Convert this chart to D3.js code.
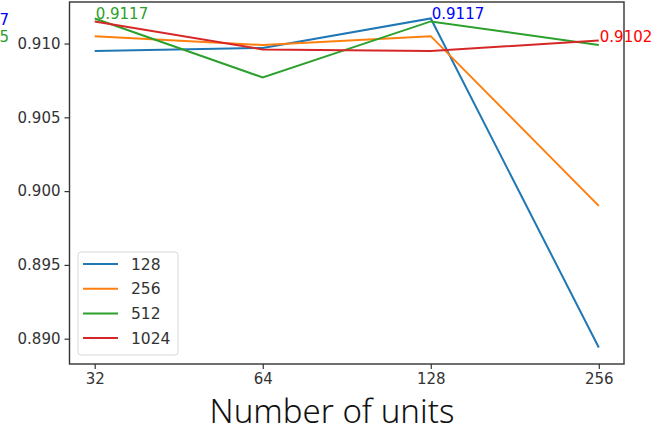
<!DOCTYPE html>
<html>
<head>
<meta charset="utf-8">
<script src="https://cdn.jsdelivr.net/npm/d3@7"></script>
<style>
  html, body { margin: 0; padding: 0; background: #fff; }
  svg { display: block; }
  text { font-family: "DejaVu Sans", sans-serif; }
</style>
</head>
<body>
<svg id="chart" width="658" height="428"></svg>
<script>
// Units per layer (x axis) and accuracy per batch size (one series each)
const units = ["32", "64", "128", "256"];
const seriesNames = ["128", "256", "512", "1024"];
const acc128  = [0.9095, 0.9097, 0.9117, 0.8894];
const acc256  = [0.9105, 0.9099, 0.9105, 0.8990];
const acc512  = [0.9117, 0.9077, 0.9115, 0.9099];
const acc1024 = [0.9115, 0.9096, 0.9095, 0.9102];
const yTicks = [0.890, 0.895, 0.900, 0.905, 0.910];
const colors = ["#1f77b4", "#ff7f0e", "#2ca02c", "#d62728"];

// Annotated values: [series index, unit index, value]
const notes = [[2, 0, 0.9117], [0, 2, 0.9117], [3, 3, 0.9102]];

const series = [acc128, acc256, acc512, acc1024].map((v, i) => ({
  name: seriesNames[i], color: colors[i], values: v
}));

const svg = d3.select("#chart");
const plotL = 69.5, plotR = 624, plotT = 2, plotB = 364;

const allVals = series.flatMap(s => s.values);
const lo = d3.min(allVals), hi = d3.max(allVals), pad = (hi - lo) * 0.05;
const n = units.length - 1, xpad = n * 0.05;

const x = d3.scaleLinear().domain([-xpad, n + xpad]).range([plotL, plotR]);
const y = d3.scaleLinear().domain([lo - pad, hi + pad]).range([plotB, plotT]);

// Axes
const xAxis = d3.axisBottom(x).tickValues(d3.range(units.length))
  .tickFormat(i => units[i]).tickSize(5).tickPadding(4);
const yAxis = d3.axisLeft(y).tickValues(yTicks)
  .tickFormat(d3.format(".3f")).tickSize(5).tickPadding(4);

const gx = svg.append("g").attr("transform", `translate(0,${plotB})`).call(xAxis);
const gy = svg.append("g").attr("transform", `translate(${plotL},0)`).call(yAxis);
[gx, gy].forEach(g => {
  g.select(".domain").remove();
  g.selectAll(".tick line").attr("stroke", "#333").attr("stroke-width", 1.2);
  g.selectAll(".tick text").attr("fill", "#333").style("font-size", "15px");
});

// Frame
svg.append("rect")
  .attr("x", plotL).attr("y", plotT)
  .attr("width", plotR - plotL).attr("height", plotB - plotT)
  .attr("fill", "none").attr("stroke", "#333").attr("stroke-width", 1.4);

// Series lines
const line = d3.line().x((d, i) => x(i)).y(d => y(d));
svg.append("g").selectAll("path").data(series).join("path")
  .attr("d", d => line(d.values))
  .attr("fill", "none")
  .attr("stroke", d => d.color)
  .attr("stroke-width", 2);

// Value annotations
const noteColors = ["#0000ff", "#ff7f0e", "#2ca02c", "#ff0000"];
svg.append("g").selectAll("text").data(notes).join("text")
  .attr("x", d => x(d[1]) + 1)
  .attr("y", d => y(d[2]) + 1)
  .attr("fill", d => noteColors[d[0]])
  .style("font-size", "15px")
  .text(d => d[2].toFixed(4));

// Annotations placed left of the figure edge (only their last digit shows)
const edgeNotes = [[0, 0.9117, 25], [2, 0.9105, 42]];
svg.append("g").selectAll("text").data(edgeNotes).join("text")
  .attr("x", 9).attr("y", d => d[2])
  .attr("text-anchor", "end")
  .attr("fill", d => noteColors[d[0]])
  .style("font-size", "15px")
  .text(d => d[1].toFixed(4));

// Legend
const lg = svg.append("g").attr("transform", "translate(78,252)");
lg.append("rect")
  .attr("width", 100).attr("height", 103).attr("rx", 3)
  .attr("fill", "#fff").attr("fill-opacity", 0.8)
  .attr("stroke", "#d8d8d8").attr("stroke-width", 1);
const items = lg.selectAll("g").data(series).join("g")
  .attr("transform", (d, i) => `translate(0,${12 + i * 24.7})`);
items.append("line")
  .attr("x1", 5).attr("x2", 40)
  .attr("stroke", d => d.color).attr("stroke-width", 2);
items.append("text")
  .attr("x", 53).attr("y", 5.5)
  .attr("fill", "#333").style("font-size", "15.5px")
  .text(d => d.name);

// X axis title
svg.append("text")
  .attr("x", 332).attr("y", 423)
  .attr("text-anchor", "middle")
  .attr("fill", "#111")
  .style("font-family", "'Noto Sans', sans-serif")
  .style("font-weight", 300)
  .style("font-size", "33px")
  .text("Number of units");
</script>
</body>
</html>
